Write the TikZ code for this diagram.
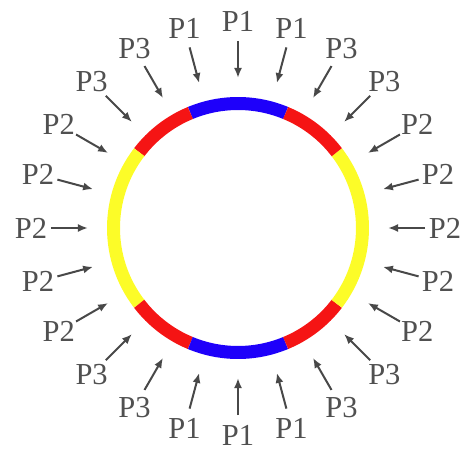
\documentclass[tikz,border=0pt]{standalone}
\usepackage{fontspec}
\setmainfont{Liberation Serif}
\usetikzlibrary{arrows.meta}
\definecolor{arrowgray}{RGB}{72,72,72}
\definecolor{textgray}{RGB}{80,80,80}
\definecolor{ringblue}{RGB}{30,0,250}
\definecolor{ringred}{RGB}{245,20,20}
\definecolor{ringyellow}{RGB}{252,252,40}

\begin{document}
\begin{tikzpicture}[x=1pt, y=1pt,
    seg/.style={line width=13pt},
    load/.style={draw=arrowgray, line width=2pt, -{Latex[length=10pt, width=8pt]}},
    lbl/.style={text=textgray, inner sep=0pt, font=\fontsize{30.5}{30.5}\selectfont}]
    \useasboundingbox (-238,-224) rectangle (227,228);

    % ring segments
    \draw [seg, ringblue] (67.5:124.5) arc (67.5:112.5:124.5);
    \draw [seg, ringred] (112.5:124.5) arc (112.5:142.5:124.5);
    \draw [seg, ringyellow] (142.5:124.5) arc (142.5:217.5:124.5);
    \draw [seg, ringred] (217.5:124.5) arc (217.5:247.5:124.5);
    \draw [seg, ringblue] (247.5:124.5) arc (247.5:292.5:124.5);
    \draw [seg, ringred] (292.5:124.5) arc (292.5:322.5:124.5);
    \draw [seg, ringyellow] (322.5:124.5) arc (322.5:397.5:124.5);
    \draw [seg, ringred] (37.5:124.5) arc (37.5:67.5:124.5);

    % loads
    \foreach \a/\p in {0/P2, 15/P2, 30/P2, 45/P3, 60/P3, 75/P1, 90/P1, 105/P1,
                       120/P3, 135/P3, 150/P2, 165/P2, 180/P2, 195/P2, 210/P2,
                       225/P3, 240/P3, 255/P1, 270/P1, 285/P1, 300/P3, 315/P3,
                       330/P2, 345/P2} {
        \node [lbl] (label\a) at (\a:207) {\p};
        \coordinate (tail\a) at (\a:187);
        \coordinate (tip\a) at (\a:150);
        \path [load] (tail\a) -- (tip\a);
    }
\end{tikzpicture}
\end{document}
